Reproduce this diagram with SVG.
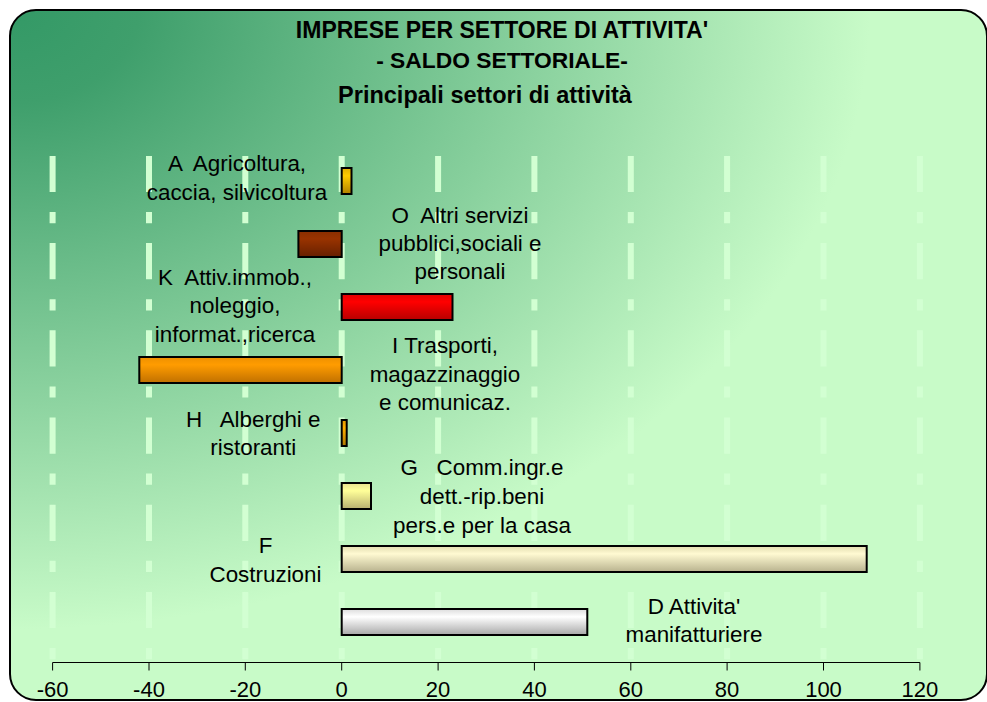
<svg xmlns="http://www.w3.org/2000/svg" width="987" height="702" viewBox="0 0 987 702">
  <defs>
    <radialGradient id="bg" gradientUnits="userSpaceOnUse" cx="10" cy="10" r="860" fx="10" fy="10" gradientTransform="translate(10 10) scale(1 0.72) translate(-10 -10)">
      <stop offset="0" stop-color="#339966"/>
      <stop offset="0.15" stop-color="#3f9f6c"/>
      <stop offset="1" stop-color="#c8fbc8"/>
    </radialGradient>
    <linearGradient id="gGold" x1="0" y1="0" x2="0" y2="1">
      <stop offset="0" stop-color="#e0ae00"/><stop offset="0.3" stop-color="#ffcc00"/><stop offset="1" stop-color="#b08000"/>
    </linearGradient>
    <linearGradient id="gBrown" x1="0" y1="0" x2="0" y2="1">
      <stop offset="0" stop-color="#8a2e00"/><stop offset="0.3" stop-color="#993300"/><stop offset="1" stop-color="#662000"/>
    </linearGradient>
    <linearGradient id="gRed" x1="0" y1="0" x2="0" y2="1">
      <stop offset="0" stop-color="#e00000"/><stop offset="0.3" stop-color="#ff0000"/><stop offset="1" stop-color="#b80000"/>
    </linearGradient>
    <linearGradient id="gOrange" x1="0" y1="0" x2="0" y2="1">
      <stop offset="0" stop-color="#ee9000"/><stop offset="0.3" stop-color="#ff9c00"/><stop offset="1" stop-color="#c07000"/>
    </linearGradient>
    <linearGradient id="gAmber" x1="0" y1="0" x2="0" y2="1">
      <stop offset="0" stop-color="#e09800"/><stop offset="0.3" stop-color="#ffb000"/><stop offset="1" stop-color="#b07800"/>
    </linearGradient>
    <linearGradient id="gPale" x1="0" y1="0" x2="0" y2="1">
      <stop offset="0" stop-color="#e8e090"/><stop offset="0.3" stop-color="#ffff99"/><stop offset="1" stop-color="#b8b070"/>
    </linearGradient>
    <linearGradient id="gBeige" x1="0" y1="0" x2="0" y2="1">
      <stop offset="0" stop-color="#e2dcb0"/><stop offset="0.3" stop-color="#fffad2"/><stop offset="1" stop-color="#b8b28e"/>
    </linearGradient>
    <linearGradient id="gGrey" x1="0" y1="0" x2="0" y2="1">
      <stop offset="0" stop-color="#dcdcdc"/><stop offset="0.3" stop-color="#ffffff"/><stop offset="1" stop-color="#a8a8a8"/>
    </linearGradient>
  </defs>
  <style>
    text { font-family: "Liberation Sans", Arial, sans-serif; fill: #000; }
    .title { font-weight: bold; text-anchor: middle; }
    .lbl { font-size: 22.4px; text-anchor: middle; white-space: pre; }
    .ax { font-size: 22px; text-anchor: middle; }
    .grid { stroke: #d2ffd2; stroke-width: 6; stroke-dasharray: 36.2 19.9 11.2 19.9; }
    .bar { stroke: #000; stroke-width: 2; }
    .axis { stroke: #000; stroke-width: 1; fill: none; }
  </style>

  <rect id="chart-area" x="10" y="10" width="977" height="690" rx="26" ry="26" fill="url(#bg)" stroke="#000" stroke-width="2"/>

  <g id="titles">
    <text class="title" x="502" y="38" font-size="23">IMPRESE PER SETTORE DI ATTIVITA'</text>
    <text class="title" x="502" y="68" font-size="22.8">- SALDO SETTORIALE-</text>
    <text class="title" x="485" y="103" font-size="23.5">Principali settori di attività</text>
  </g>

  <g id="gridlines">
    <line class="grid" x1="52.6" y1="155.9" x2="52.6" y2="660"/>
    <line class="grid" x1="149" y1="155.9" x2="149" y2="660"/>
    <line class="grid" x1="245.3" y1="155.9" x2="245.3" y2="660"/>
    <line class="grid" x1="341.7" y1="155.9" x2="341.7" y2="660"/>
    <line class="grid" x1="438.1" y1="155.9" x2="438.1" y2="660"/>
    <line class="grid" x1="534.4" y1="155.9" x2="534.4" y2="660"/>
    <line class="grid" x1="630.8" y1="155.9" x2="630.8" y2="660"/>
    <line class="grid" x1="727.1" y1="155.9" x2="727.1" y2="660"/>
    <line class="grid" x1="823.5" y1="155.9" x2="823.5" y2="660"/>
    <line class="grid" x1="919.9" y1="155.9" x2="919.9" y2="660"/>
  </g>

  <g id="connectors"></g>

  <g id="bar-A">
    <rect class="bar" x="341.7" y="168" width="9.8" height="26" fill="url(#gGold)"/>
    <text class="lbl" x="237" y="171">A  Agricoltura,</text>
    <text class="lbl" x="237" y="199.5">caccia, silvicoltura</text>
  </g>
  <g id="bar-O">
    <rect class="bar" x="298.4" y="231" width="43.3" height="26" fill="url(#gBrown)"/>
    <text class="lbl" x="460" y="222.5">O  Altri servizi</text>
    <text class="lbl" x="460" y="250.5">pubblici,sociali e</text>
    <text class="lbl" x="460" y="278.5">personali</text>
  </g>
  <g id="bar-K">
    <rect class="bar" x="341.7" y="294" width="110.8" height="26" fill="url(#gRed)"/>
    <text class="lbl" x="235" y="285">K  Attiv.immob.,</text>
    <text class="lbl" x="235" y="313.3">noleggio,</text>
    <text class="lbl" x="235" y="341.7">informat.,ricerca</text>
  </g>
  <g id="bar-I">
    <rect class="bar" x="139.3" y="357" width="202.4" height="26" fill="url(#gOrange)"/>
    <text class="lbl" x="445" y="353.3">I Trasporti,</text>
    <text class="lbl" x="445" y="381.7">magazzinaggio</text>
    <text class="lbl" x="445" y="410">e comunicaz.</text>
  </g>
  <g id="bar-H">
    <rect class="bar" x="341.7" y="420" width="5" height="26" fill="url(#gAmber)"/>
    <text class="lbl" x="253.3" y="426.7">H   Alberghi e</text>
    <text class="lbl" x="253.3" y="455">ristoranti</text>
  </g>
  <g id="bar-G">
    <rect class="bar" x="341.7" y="483" width="29.3" height="26" fill="url(#gPale)"/>
    <text class="lbl" x="482" y="475">G   Comm.ingr.e</text>
    <text class="lbl" x="482" y="504">dett.-rip.beni</text>
    <text class="lbl" x="482" y="532.7">pers.e per la casa</text>
  </g>
  <g id="bar-F">
    <rect class="bar" x="341.7" y="546" width="525" height="26" fill="url(#gBeige)"/>
    <text class="lbl" x="265.5" y="552.7">F</text>
    <text class="lbl" x="265.5" y="581.7">Costruzioni</text>
  </g>
  <g id="bar-D">
    <rect class="bar" x="341.7" y="609" width="245.6" height="26" fill="url(#gGrey)"/>
    <text class="lbl" x="694" y="614">D Attivita'</text>
    <text class="lbl" x="694" y="641.7">manifatturiere</text>
  </g>

  <g id="x-axis">
    <path class="axis" d="M52.6 662.5H919.9M52.6 662.5v8M149 662.5v8M245.3 662.5v8M341.7 662.5v8M438.1 662.5v8M534.4 662.5v8M630.8 662.5v8M727.1 662.5v8M823.5 662.5v8M919.9 662.5v8"/>
    <text class="ax" x="52.6" y="697">-60</text>
    <text class="ax" x="149" y="697">-40</text>
    <text class="ax" x="245.3" y="697">-20</text>
    <text class="ax" x="341.7" y="697">0</text>
    <text class="ax" x="438.1" y="697">20</text>
    <text class="ax" x="534.4" y="697">40</text>
    <text class="ax" x="630.8" y="697">60</text>
    <text class="ax" x="727.1" y="697">80</text>
    <text class="ax" x="823.5" y="697">100</text>
    <text class="ax" x="919.9" y="697">120</text>
  </g>
</svg>
